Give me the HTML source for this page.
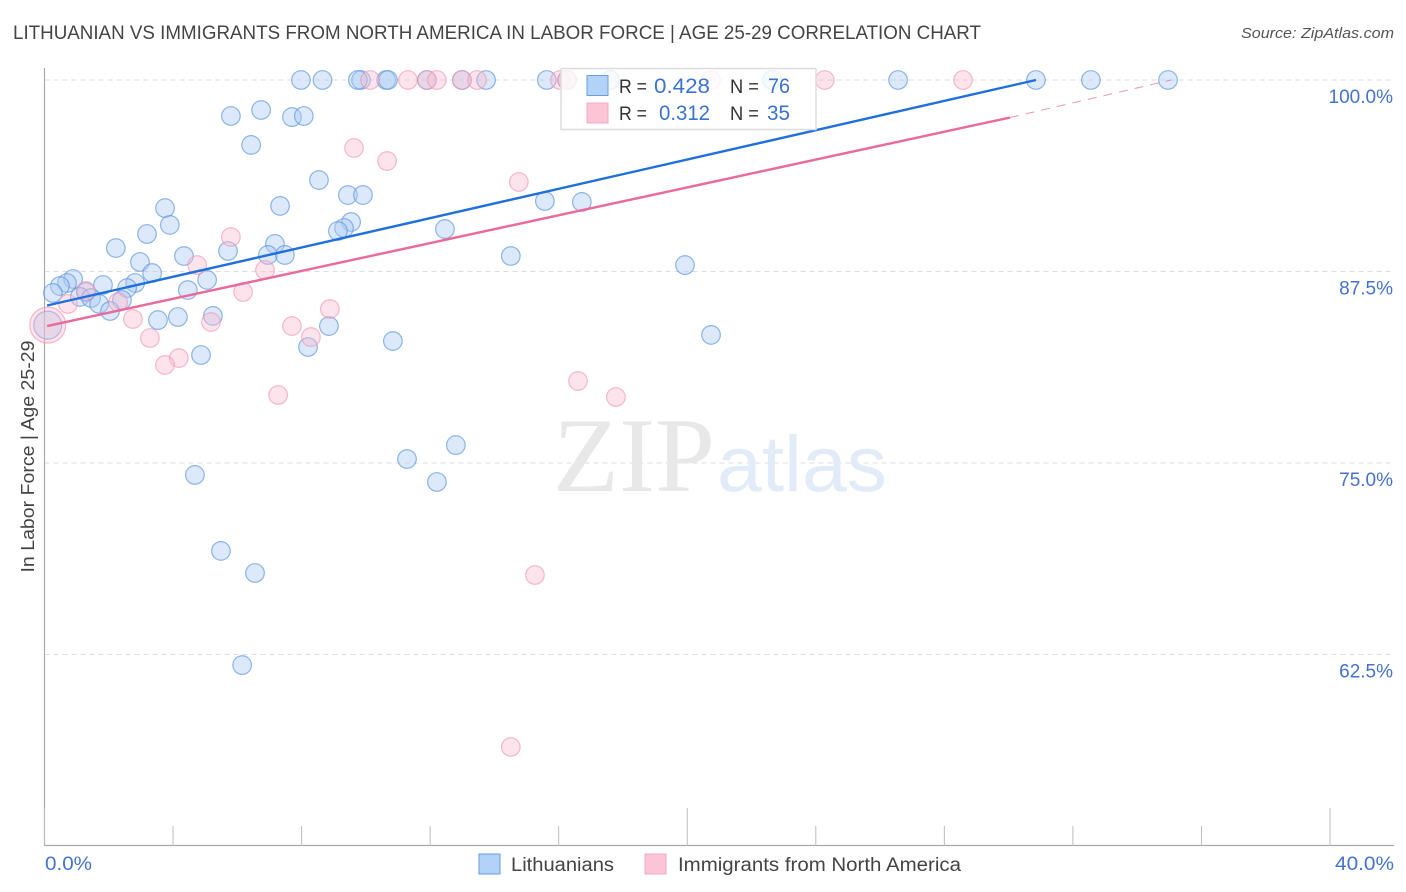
<!DOCTYPE html>
<html lang="en">
<head>
<meta charset="utf-8">
<title>Lithuanian vs Immigrants from North America in Labor Force | Age 25-29 Correlation Chart</title>
<style>
html,body{margin:0;padding:0;background:#fff;width:1406px;height:892px;overflow:hidden}
svg{display:block;font-family:"Liberation Sans",sans-serif}
</style>
</head>
<body>
<svg id="chart" width="1406" height="892" viewBox="0 0 1406 892" xmlns="http://www.w3.org/2000/svg">
  <text x="13" y="39" font-size="19" fill="#444" textLength="968" lengthAdjust="spacingAndGlyphs">LITHUANIAN VS IMMIGRANTS FROM NORTH AMERICA IN LABOR FORCE | AGE 25-29 CORRELATION CHART</text>
  <text x="1394" y="38" font-size="15" font-style="italic" fill="#555" text-anchor="end" textLength="153" lengthAdjust="spacingAndGlyphs">Source: ZipAtlas.com</text>
  <g id="grid"></g>
  <g>
    <text x="553" y="491" font-family="'Liberation Serif',serif" font-size="106" fill="#e8e8e8" textLength="162" lengthAdjust="spacingAndGlyphs">ZIP</text>
    <text x="717" y="491" font-size="79" fill="#e2ecf9" textLength="170" lengthAdjust="spacingAndGlyphs">atlas</text>
  </g>
  <g id="axes"></g>
  <g id="points-b"></g>
  <g id="points-p"></g>
  <g id="trends"></g>
  <g id="ylabels"></g>
  <text transform="translate(34,456.5) rotate(-90)" font-size="18.5" fill="#444" text-anchor="middle" textLength="232" lengthAdjust="spacingAndGlyphs">In Labor Force | Age 25-29</text>
  <g>
    <rect x="561" y="68.5" width="255" height="61" fill="#fff" fill-opacity="0.8" stroke="#ddd" stroke-width="1.5"/>
    <rect x="587" y="75.5" width="21" height="20" fill="#b3d2f7" stroke="#6a9edc" stroke-width="1"/>
    <rect x="587" y="103" width="21" height="20" fill="#fcc5d6" stroke="#f5a8c0" stroke-width="1"/>
    <g font-size="19.5">
      <text x="619" y="93" fill="#333" textLength="28" lengthAdjust="spacingAndGlyphs">R =</text>
      <text x="654" y="93" fill="#3a72cf" font-size="21" textLength="56" lengthAdjust="spacingAndGlyphs">0.428</text>
      <text x="730" y="93" fill="#333" textLength="29" lengthAdjust="spacingAndGlyphs">N =</text>
      <text x="768" y="93" fill="#3a72cf" font-size="21" textLength="22" lengthAdjust="spacingAndGlyphs">76</text>
      <text x="619" y="120" fill="#333" textLength="28" lengthAdjust="spacingAndGlyphs">R =</text>
      <text x="659" y="120" fill="#3a72cf" font-size="21" textLength="51" lengthAdjust="spacingAndGlyphs">0.312</text>
      <text x="730" y="120" fill="#333" textLength="29" lengthAdjust="spacingAndGlyphs">N =</text>
      <text x="767" y="120" fill="#3a72cf" font-size="21" textLength="23" lengthAdjust="spacingAndGlyphs">35</text>
    </g>
  </g>
  <text x="45" y="870" font-size="19" fill="#4472d0" textLength="47" lengthAdjust="spacingAndGlyphs">0.0%</text>
  <text x="1394" y="870" font-size="19" fill="#4472d0" text-anchor="end" textLength="59" lengthAdjust="spacingAndGlyphs">40.0%</text>
  <g>
    <rect x="479" y="854" width="21" height="20" fill="#b3d2f7" stroke="#6a9edc" stroke-width="1"/>
    <text x="511" y="871" font-size="19" fill="#444" textLength="103" lengthAdjust="spacingAndGlyphs">Lithuanians</text>
    <rect x="645" y="854" width="21" height="20" fill="#fcc5d6" stroke="#f5a8c0" stroke-width="1"/>
    <text x="678" y="871" font-size="19" fill="#444" textLength="283" lengthAdjust="spacingAndGlyphs">Immigrants from North America</text>
  </g>
</svg>
<script>
// Chart data (x: percent share, y: in labor force %)
const xTicks = [0, 4, 8, 12, 16, 20, 24, 28, 32, 36, 40];
const xMajorTicks = [0, 20, 40];
const yGrid = [100, 87.5, 75, 62.5];
const yTickLabels = ["100.0%", "87.5%", "75.0%", "62.5%"];
const lithuaniansX = [7.98,8.65,9.85,9.75,10.63,10.69,11.90,12.99,13.74,15.63,16.26,17.60,22.64,26.56,30.85,32.56,34.96,5.80,6.74,7.70,8.07,6.43,8.54,9.44,9.91,3.75,3.90,7.33,9.54,9.32,9.13,12.46,15.57,16.72,3.19,2.22,7.17,5.71,6.95,7.48,4.34,2.97,14.51,19.93,3.35,5.06,0.89,0.70,0.48,0.26,1.82,2.82,2.57,4.46,1.29,1.10,1.45,1.70,2.41,2.04,3.53,4.15,5.24,8.85,20.74,10.84,8.20,4.87,11.28,12.80,12.21,4.68,5.49,6.55,6.15,0.10];
const lithuaniansY = [100,100,100,100,100,100,100,100,100,100,100,100,100,100,100,100,100,97.65,98.04,97.58,97.65,95.76,93.47,92.49,92.49,91.64,90.54,91.78,90.73,90.34,90.14,90.27,92.10,92.04,89.95,89.03,89.30,88.84,88.58,88.58,88.51,88.12,88.51,87.92,87.40,86.95,87.01,86.75,86.55,86.10,86.62,86.75,86.42,86.29,86.16,85.84,85.77,85.38,85.64,84.92,84.33,84.53,84.60,83.94,83.36,82.96,82.57,82.05,75.26,76.17,73.76,74.22,69.26,67.82,61.81,84.00];
const lithuaniansSize = [9.3,9.3,9.3,9.3,9.3,9.3,9.3,9.3,9.3,9.3,9.3,9.3,9.3,9.3,9.3,9.3,9.3,9.3,9.3,9.3,9.3,9.3,9.3,9.3,9.3,9.3,9.3,9.3,9.3,9.3,9.3,9.3,9.3,9.3,9.3,9.3,9.3,9.3,9.3,9.3,9.3,9.3,9.3,9.3,9.3,9.3,9.3,9.3,9.3,9.3,9.3,9.3,9.3,9.3,9.3,9.3,9.3,9.3,9.3,9.3,9.3,9.3,9.3,9.3,9.3,9.3,9.3,9.3,9.3,9.3,9.3,9.3,9.3,9.3,9.3,14];
const immigrantsX = [10.13,11.31,11.90,12.21,12.99,13.46,16.04,16.26,20.74,24.28,28.58,9.63,10.66,14.76,5.80,4.75,6.86,6.18,8.88,7.70,5.18,8.29,2.75,3.28,4.18,3.75,7.27,16.60,17.78,15.26,14.51,0.73,1.29,2.29,0.10];
const immigrantsY = [100,100,100,100,100,100,100,100,100,100,100,95.56,94.71,93.34,89.75,87.92,87.60,86.16,85.05,83.94,84.20,83.22,84.40,83.16,81.85,81.40,79.44,80.35,79.31,67.69,56.46,85.38,86.23,85.50,84.00];
const immigrantsSize = [9.3,9.3,9.3,9.3,9.3,9.3,9.3,9.3,9.3,9.3,9.3,9.3,9.3,9.3,9.3,9.3,9.3,9.3,9.3,9.3,9.3,9.3,9.3,9.3,9.3,9.3,9.3,9.3,9.3,9.3,9.3,9.3,9.3,9.3,18];
const lithuaniansTrendX = [0.08, 30.85];
const lithuaniansTrendY = [85.28, 100];
const immigrantsTrendX = [0.08, 30.04];
const immigrantsTrendY = [83.94, 97.55];
const immigrantsExtensionX = [30.04, 35.06];
const immigrantsExtensionY = [97.55, 100];

const NS = "http://www.w3.org/2000/svg";
const plot = {x0: 44.5, x40: 1330, y100: 80, y50: 846, right: 1394};
function xScale(v) { return plot.x0 + (plot.x40 - plot.x0) * v / 40; }
function yScale(v) { return plot.y100 + (plot.y50 - plot.y100) * (100 - v) / 50; }
function make(tag, parent, attrs) {
  const el = document.createElementNS(NS, tag);
  for (const k in attrs) el.setAttribute(k, attrs[k]);
  document.getElementById(parent).appendChild(el);
  return el;
}

yGrid.forEach(function (v, i) {
  const line = make("line", "grid", {x1: plot.x0, x2: plot.right, y1: yScale(v), y2: yScale(v), stroke: "#ddd", "stroke-width": 1, "stroke-dasharray": "5 4"});
  
  
  const label = make("text", "ylabels", {x: 1393, y: yScale(v) + 23, "font-size": 19, fill: "#4472d0", "text-anchor": "end"});
  
  
  label.textContent = yTickLabels[i];
});

const yAxis = make("line", "axes", {x1: plot.x0, x2: plot.x0, y1: 68, y2: plot.y50, stroke: "#aaa", "stroke-width": 1.2});


const xAxis = make("line", "axes", {x1: plot.x0, x2: plot.right, y1: plot.y50 - 0.5, y2: plot.y50 - 0.5, stroke: "#aaa", "stroke-width": 1.2});


xTicks.forEach(function (v) {
  const top = xMajorTicks.indexOf(v) >= 0 ? 808 : 826;
  const tick = make("line", "axes", {x1: xScale(v), x2: xScale(v), y1: top, y2: plot.y50, stroke: "#bbb", "stroke-width": 1});
  
  
});

lithuaniansX.forEach(function (v, i) {
  const pt = make("circle", "points-b", {cx: xScale(v), cy: yScale(lithuaniansY[i]), r: lithuaniansSize[i], fill: "#a9cbf5", "fill-opacity": 0.42, stroke: "#5f95da", "stroke-opacity": 0.68, "stroke-width": 1.2});
  
  
});
immigrantsX.forEach(function (v, i) {
  const pt = make("circle", "points-p", {cx: xScale(v), cy: yScale(immigrantsY[i]), r: immigrantsSize[i], fill: "#f9b8cc", "fill-opacity": 0.4, stroke: "#f08fae", "stroke-opacity": 0.6, "stroke-width": 1.2});
  
  
});

const trendBlue = make("line", "trends", {x1: xScale(lithuaniansTrendX[0]), y1: yScale(lithuaniansTrendY[0]), x2: xScale(lithuaniansTrendX[1]), y2: yScale(lithuaniansTrendY[1]), stroke: "#1f6fdc", "stroke-width": 2.4});


const trendPink = make("line", "trends", {x1: xScale(immigrantsTrendX[0]), y1: yScale(immigrantsTrendY[0]), x2: xScale(immigrantsTrendX[1]), y2: yScale(immigrantsTrendY[1]), stroke: "#ea6a9a", "stroke-width": 2.4});


const trendPinkExt = make("line", "trends", {x1: xScale(immigrantsExtensionX[0]), y1: yScale(immigrantsExtensionY[0]), x2: xScale(immigrantsExtensionX[1]), y2: yScale(immigrantsExtensionY[1]), stroke: "#ea6a9a", "stroke-width": 1, "stroke-opacity": 0.7, "stroke-dasharray": "9 7"});


</script>
</body>
</html>
